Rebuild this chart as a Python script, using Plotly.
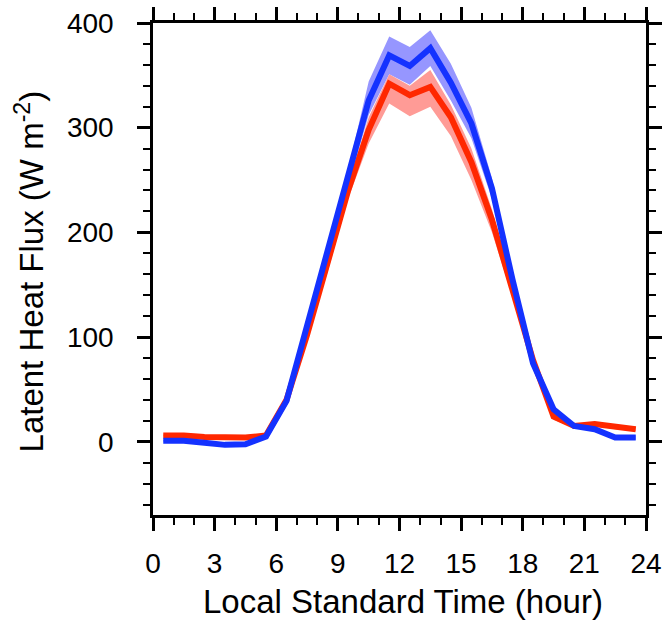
import plotly.graph_objects as go

hours = [0.5, 1.5, 2.5, 3.5, 4.5, 5.5, 6.5, 7.5, 8.5, 9.5, 10.5, 11.5,
         12.5, 13.5, 14.5, 15.5, 16.5, 17.5, 18.5, 19.5, 20.5, 21.5, 22.5, 23.5]

red_mean = [6, 6, 4.5, 4, 4, 6, 40, 102, 170, 240, 298, 342,
            331, 339, 310, 267, 212, 145, 78, 24, 15, 17, 14, 12]
red_upper = [7, 7, 5.5, 5, 5, 7, 43, 105, 174, 245, 310, 351,
             340, 355, 322, 280, 222, 150, 82, 27, 17, 19, 16, 14]
red_lower = [5, 5, 3.5, 3, 3, 5, 37, 98, 162, 232, 285, 323,
             311, 320, 292, 250, 200, 138, 74, 21, 13, 15, 12, 10]

blue_mean = [1, 1, -1, -3, -2.5, 5, 39, 110, 180, 252, 326, 369,
             359, 376, 343, 304, 242, 155, 75, 31, 15, 12, 4, 4]
blue_upper = [2, 2, 0, -2, -1.5, 7, 43, 116, 186, 260, 344, 387,
              377, 393, 361, 319, 252, 160, 78, 33, 17, 14, 6, 6]
blue_lower = [0, 0, -2, -4, -3.5, 3, 36, 105, 174, 244, 312, 351,
              341, 359, 326, 290, 232, 150, 72, 29, 13, 10, 2, 2]

x_ticks = [0, 3, 6, 9, 12, 15, 18, 21, 24]
y_ticks = [0, 100, 200, 300, 400]

BLUE = "rgb(20,50,255)"
RED = "rgb(255,40,0)"
BLUE_BAND = "rgb(150,150,255)"
RED_BAND = "rgb(255,155,150)"

fig = go.Figure()
fig.add_trace(go.Scatter(x=hours + hours[::-1], y=blue_upper + blue_lower[::-1],
                         fill="toself", fillcolor=BLUE_BAND, line=dict(width=0),
                         mode="lines", hoverinfo="skip", showlegend=False))
fig.add_trace(go.Scatter(x=hours + hours[::-1], y=red_upper + red_lower[::-1],
                         fill="toself", fillcolor=RED_BAND, line=dict(width=0),
                         mode="lines", hoverinfo="skip", showlegend=False))
fig.add_trace(go.Scatter(x=hours, y=red_mean, mode="lines",
                         line=dict(color=RED, width=6), showlegend=False))
fig.add_trace(go.Scatter(x=hours, y=blue_mean, mode="lines",
                         line=dict(color=BLUE, width=6), showlegend=False))

FONT = "Liberation Sans, Arial, Helvetica, sans-serif"
axis_common = dict(
    showline=True, linecolor="black", linewidth=2.5, mirror="ticks",
    ticks="outside", ticklen=13, tickwidth=2.5, tickcolor="black",
    showgrid=False, zeroline=False, automargin=False,
    tickfont=dict(family=FONT, size=28, color="black"),
)

fig.update_xaxes(range=[0, 24], tickmode="array", tickvals=x_ticks,
                 ticktext=[str(v) for v in x_ticks],
                 minor=dict(dtick=1, tick0=0, ticks="outside", ticklen=7,
                            tickwidth=2, tickcolor="black", showgrid=False),
                 ticklabelstandoff=9,
                 **axis_common)
fig.update_yaxes(range=[-70, 400], tickmode="array", tickvals=y_ticks,
                 ticktext=[str(v) for v in y_ticks],
                 minor=dict(dtick=20, tick0=0, ticks="outside", ticklen=7,
                            tickwidth=2, tickcolor="black", showgrid=False),
                 ticklabelstandoff=18,
                 **axis_common)

fig.add_annotation(text="Local Standard Time (hour)", xref="paper", yref="paper",
                   x=0.5076, y=-0.1748, xanchor="center", yanchor="middle",
                   showarrow=False, font=dict(family=FONT, size=33, color="black"))
fig.add_annotation(text="Latent Heat Flux (W m<sup>-2</sup>)", xref="paper", yref="paper",
                   x=-0.2495, y=0.495, xanchor="center", yanchor="middle",
                   textangle=-90, showarrow=False,
                   font=dict(family=FONT, size=33, color="black"))

fig.update_layout(
    width=667, height=625,
    margin=dict(l=153, r=21, t=23, b=110, autoexpand=False),
    paper_bgcolor="white", plot_bgcolor="white",
    showlegend=False,
)

fig.write_html("out.html")
